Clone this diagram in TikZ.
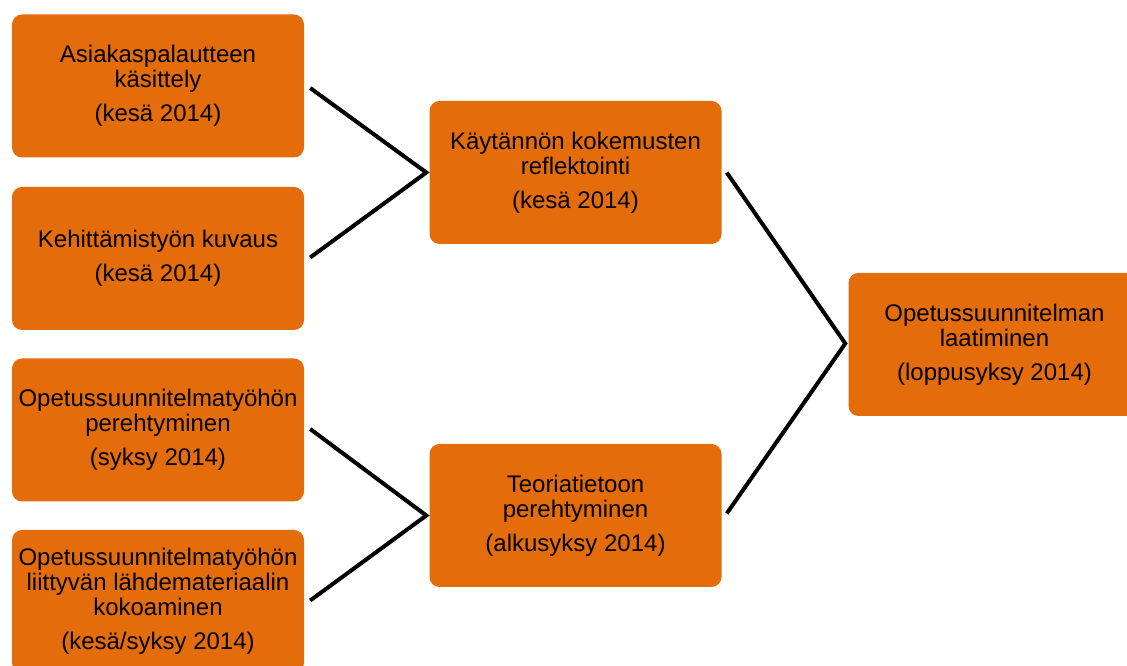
\documentclass[tikz,border=0pt]{standalone}
\usepackage{fontspec}
\setmainfont{Liberation Sans}
\usetikzlibrary{calc}
\definecolor{boxorange}{RGB}{228,108,10}
\begin{document}
\begin{tikzpicture}[x=1pt,y=1pt,
  task/.style={fill=boxorange, rounded corners=10pt, minimum width=292pt,
    minimum height=143pt, inner sep=0pt, align=center, text=black,
    font=\fontsize{24}{25}\selectfont},
  link/.style={line width=4pt, black}]
\useasboundingbox (0,0) rectangle (1127,666);
\clip (0,0) rectangle (1127,666);

% first column
\node[task] (a1) at (158,580)   {Asiakaspalautteen\\käsittely\\[9pt](kesä 2014)};
\node[task] (a2) at (158,407.5) {Kehittämistyön kuvaus\\[9pt](kesä 2014)};
\node[task] (a3) at (158,236)   {Opetussuunnitelmatyöhön\\perehtyminen\\[9pt](syksy 2014)};
\node[task] (a4) at (158,64.5)  {Opetussuunnitelmatyöhön\\liittyvän lähdemateriaalin\\kokoaminen\\[9pt](kesä/syksy 2014)};

% second column
\node[task] (b1) at (575.5,493.5) {Käytännön kokemusten\\reflektointi\\[9pt](kesä 2014)};
\node[task] (b2) at (575.5,150.5) {Teoriatietoon\\perehtyminen\\[9pt](alkusyksy 2014)};

% final step
\node[task] (c1) at (994.5,321.5) {Opetussuunnitelman\\laatiminen\\[9pt](loppusyksy 2014)};

% joining points in front of each target box
\coordinate (j1) at ($(b1.west)+(-3,0)$);
\coordinate (j2) at ($(b2.west)+(-3,0)$);
\coordinate (j3) at ($(c1.west)+(-3,1)$);

% connectors
\draw[link] ($(a1.east)+(6,-2)$) -- (j1) -- ($(a2.east)+(6,1)$);
\draw[link] ($(a3.east)+(6,1)$) -- (j2) -- ($(a4.east)+(6,1)$);
\draw[link] ($(b1.east)+(5,0)$) -- (j3) -- ($(b2.east)+(5,2)$);
\end{tikzpicture}
\end{document}
